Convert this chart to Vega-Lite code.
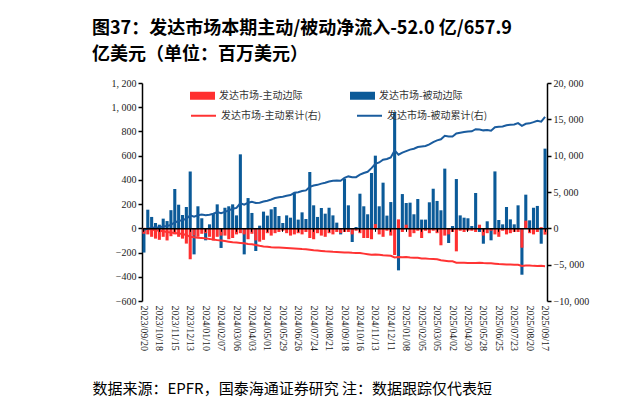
{
  "$schema": "https://vega.github.io/schema/vega-lite/v6.json",
  "width": 405,
  "height": 218,
  "autosize": {"type": "none"},
  "padding": {"left": 142, "top": 83, "right": 71, "bottom": 112},
  "background": "white",
  "title": {
    "text": ["图37：发达市场本期主动/被动净流入-52.0 亿/657.9", "亿美元（单位：百万美元）"],
    "anchor": "start",
    "frame": "group",
    "dx": -50,
    "offset": 14,
    "font": "Noto Sans CJK SC",
    "fontSize": 18,
    "fontWeight": "bold",
    "color": "#000000",
    "lineHeight": 26
  },
  "data": {
    "values": [
      {"d": "2023/09/20", "a": -45, "p": -200, "ac": -45, "pc": -200},
      {"d": "2023/09/27", "a": -50, "p": 154, "ac": -95, "pc": -38},
      {"d": "2023/10/04", "a": -70, "p": 94, "ac": -165, "pc": 65},
      {"d": "2023/10/11", "a": -85, "p": 44, "ac": -250, "pc": 117},
      {"d": "2023/10/18", "a": -95, "p": 30, "ac": -345, "pc": 155},
      {"d": "2023/10/25", "a": -70, "p": 80, "ac": -415, "pc": 244},
      {"d": "2023/11/01", "a": -100, "p": 60, "ac": -515, "pc": 312},
      {"d": "2023/11/08", "a": -65, "p": 150, "ac": -580, "pc": 470},
      {"d": "2023/11/15", "a": -50, "p": 325, "ac": -630, "pc": 804},
      {"d": "2023/11/22", "a": -70, "p": 195, "ac": -700, "pc": 1007},
      {"d": "2023/11/29", "a": -85, "p": 110, "ac": -785, "pc": 1125},
      {"d": "2023/12/06", "a": -126, "p": 176, "ac": -911, "pc": 1310},
      {"d": "2023/12/13", "a": -256, "p": 470, "ac": -1167, "pc": 1788},
      {"d": "2023/12/20", "a": -60, "p": -215, "ac": -1227, "pc": 1592},
      {"d": "2023/12/27", "a": -70, "p": 182, "ac": -1297, "pc": 1793},
      {"d": "2024/01/03", "a": -45, "p": 83, "ac": -1342, "pc": 1896},
      {"d": "2024/01/10", "a": -40, "p": -99, "ac": -1382, "pc": 1816},
      {"d": "2024/01/17", "a": -70, "p": 33, "ac": -1452, "pc": 1868},
      {"d": "2024/01/24", "a": -100, "p": 121, "ac": -1552, "pc": 2008},
      {"d": "2024/01/31", "a": -70, "p": 198, "ac": -1622, "pc": 2226},
      {"d": "2024/02/07", "a": -60, "p": -162, "ac": -1682, "pc": 2083},
      {"d": "2024/02/14", "a": -60, "p": 170, "ac": -1742, "pc": 2272},
      {"d": "2024/02/21", "a": -90, "p": 182, "ac": -1832, "pc": 2473},
      {"d": "2024/02/28", "a": -80, "p": 198, "ac": -1912, "pc": 2691},
      {"d": "2024/03/06", "a": -50, "p": 107, "ac": -1962, "pc": 2817},
      {"d": "2024/03/13", "a": -40, "p": 611, "ac": -2002, "pc": 3447},
      {"d": "2024/03/20", "a": -50, "p": -215, "ac": -2052, "pc": 3249},
      {"d": "2024/03/27", "a": -90, "p": 250, "ac": -2142, "pc": 3515},
      {"d": "2024/04/03", "a": -45, "p": 127, "ac": -2187, "pc": 3659},
      {"d": "2024/04/10", "a": -100, "p": -187, "ac": -2287, "pc": 3489},
      {"d": "2024/04/17", "a": -110, "p": 22, "ac": -2397, "pc": 3527},
      {"d": "2024/04/24", "a": -95, "p": 138, "ac": -2492, "pc": 3682},
      {"d": "2024/05/01", "a": -40, "p": 105, "ac": -2532, "pc": 3804},
      {"d": "2024/05/08", "a": -60, "p": 157, "ac": -2592, "pc": 3977},
      {"d": "2024/05/15", "a": -40, "p": 176, "ac": -2632, "pc": 4170},
      {"d": "2024/05/22", "a": -30, "p": 102, "ac": -2652, "pc": 4289},
      {"d": "2024/05/29", "a": -20, "p": 44, "ac": -2663, "pc": 4349},
      {"d": "2024/06/05", "a": -40, "p": 107, "ac": -2693, "pc": 4473},
      {"d": "2024/06/12", "a": -60, "p": 88, "ac": -2744, "pc": 4578},
      {"d": "2024/06/19", "a": -50, "p": 292, "ac": -2784, "pc": 4886},
      {"d": "2024/06/26", "a": -40, "p": 72, "ac": -2814, "pc": 4975},
      {"d": "2024/07/03", "a": -50, "p": 132, "ac": -2855, "pc": 5124},
      {"d": "2024/07/10", "a": -30, "p": 77, "ac": -2875, "pc": 5217},
      {"d": "2024/07/17", "a": -80, "p": 465, "ac": -2945, "pc": 5699},
      {"d": "2024/07/24", "a": -90, "p": 190, "ac": -3026, "pc": 5889},
      {"d": "2024/07/31", "a": -40, "p": 94, "ac": -3056, "pc": 5983},
      {"d": "2024/08/07", "a": -60, "p": 168, "ac": -3107, "pc": 6151},
      {"d": "2024/08/14", "a": -70, "p": 121, "ac": -3167, "pc": 6272},
      {"d": "2024/08/21", "a": -40, "p": 170, "ac": -3197, "pc": 6442},
      {"d": "2024/08/28", "a": -50, "p": 107, "ac": -3238, "pc": 6549},
      {"d": "2024/09/04", "a": -30, "p": 47, "ac": -3258, "pc": 6596},
      {"d": "2024/09/11", "a": -40, "p": -50, "ac": -3289, "pc": 6546},
      {"d": "2024/09/18", "a": -30, "p": 410, "ac": -3309, "pc": 6956},
      {"d": "2024/09/25", "a": -30, "p": 190, "ac": -3329, "pc": 7146},
      {"d": "2024/10/02", "a": -50, "p": -113, "ac": -3370, "pc": 7033},
      {"d": "2024/10/09", "a": -20, "p": 11, "ac": -3380, "pc": 7044},
      {"d": "2024/10/16", "a": -40, "p": 286, "ac": -3410, "pc": 7380},
      {"d": "2024/10/23", "a": -80, "p": 182, "ac": -3481, "pc": 7612},
      {"d": "2024/10/30", "a": -80, "p": 116, "ac": -3551, "pc": 7778},
      {"d": "2024/11/06", "a": -90, "p": 457, "ac": -3632, "pc": 8285},
      {"d": "2024/11/13", "a": 35, "p": 600, "ac": -3587, "pc": 8885},
      {"d": "2024/11/20", "a": -50, "p": 182, "ac": -3637, "pc": 9067},
      {"d": "2024/11/27", "a": -70, "p": 377, "ac": -3707, "pc": 9444},
      {"d": "2024/12/04", "a": -20, "p": 105, "ac": -3727, "pc": 9549},
      {"d": "2024/12/11", "a": -60, "p": 217, "ac": -3787, "pc": 9766},
      {"d": "2024/12/18", "a": -220, "p": 960, "ac": -4007, "pc": 10726},
      {"d": "2024/12/25", "a": 74, "p": -347, "ac": -3933, "pc": 10129},
      {"d": "2025/01/01", "a": -30, "p": 283, "ac": -3963, "pc": 10412},
      {"d": "2025/01/08", "a": 30, "p": 209, "ac": -3933, "pc": 10621},
      {"d": "2025/01/15", "a": -70, "p": 212, "ac": -4003, "pc": 10833},
      {"d": "2025/01/22", "a": -40, "p": 116, "ac": -4043, "pc": 10949},
      {"d": "2025/01/29", "a": -20, "p": 242, "ac": -4063, "pc": 11191},
      {"d": "2025/02/05", "a": -80, "p": 72, "ac": -4143, "pc": 11263},
      {"d": "2025/02/12", "a": -20, "p": 72, "ac": -4163, "pc": 11335},
      {"d": "2025/02/19", "a": -40, "p": 215, "ac": -4203, "pc": 11550},
      {"d": "2025/02/26", "a": -20, "p": 327, "ac": -4223, "pc": 11877},
      {"d": "2025/03/05", "a": -40, "p": 226, "ac": -4263, "pc": 12103},
      {"d": "2025/03/12", "a": -140, "p": 149, "ac": -4403, "pc": 12252},
      {"d": "2025/03/19", "a": -60, "p": 493, "ac": -4463, "pc": 12745},
      {"d": "2025/03/26", "a": -50, "p": -121, "ac": -4513, "pc": 12624},
      {"d": "2025/04/02", "a": -30, "p": 19, "ac": -4543, "pc": 12643},
      {"d": "2025/04/09", "a": -190, "p": 407, "ac": -4721, "pc": 13050},
      {"d": "2025/04/16", "a": -20, "p": 107, "ac": -4729, "pc": 13157},
      {"d": "2025/04/23", "a": -30, "p": 88, "ac": -4747, "pc": 13245},
      {"d": "2025/04/30", "a": -20, "p": 83, "ac": -4755, "pc": 13328},
      {"d": "2025/05/07", "a": -20, "p": 19, "ac": -4763, "pc": 13347},
      {"d": "2025/05/14", "a": -30, "p": 292, "ac": -4780, "pc": 13639},
      {"d": "2025/05/21", "a": 30, "p": -30, "ac": -4738, "pc": 13609},
      {"d": "2025/05/28", "a": -60, "p": -127, "ac": -4786, "pc": 13482},
      {"d": "2025/06/04", "a": -40, "p": 58, "ac": -4814, "pc": 13540},
      {"d": "2025/06/11", "a": -20, "p": -99, "ac": -4822, "pc": 13441},
      {"d": "2025/06/18", "a": -50, "p": 470, "ac": -4860, "pc": 13911},
      {"d": "2025/06/25", "a": -70, "p": 69, "ac": -4918, "pc": 13980},
      {"d": "2025/07/02", "a": -20, "p": 33, "ac": -4926, "pc": 14013},
      {"d": "2025/07/09", "a": -50, "p": 176, "ac": -4964, "pc": 14189},
      {"d": "2025/07/16", "a": -40, "p": 74, "ac": -4992, "pc": 14263},
      {"d": "2025/07/23", "a": -30, "p": 33, "ac": -5010, "pc": 14296},
      {"d": "2025/07/30", "a": -30, "p": 190, "ac": -5028, "pc": 14486},
      {"d": "2025/08/06", "a": -160, "p": -383, "ac": -5176, "pc": 14103},
      {"d": "2025/08/13", "a": 63, "p": 278, "ac": -5100, "pc": 14381},
      {"d": "2025/08/20", "a": -40, "p": 66, "ac": -5128, "pc": 14447},
      {"d": "2025/08/27", "a": -50, "p": 170, "ac": -5166, "pc": 14617},
      {"d": "2025/09/03", "a": -30, "p": 185, "ac": -5184, "pc": 14802},
      {"d": "2025/09/10", "a": 10, "p": -127, "ac": -5162, "pc": 14675},
      {"d": "2025/09/17", "a": -52, "p": 658, "ac": -5202, "pc": 15333}
    ]
  },
  "layer": [
    {
      "transform": [{"fold": ["p", "a"], "as": ["k", "v"]}],
      "mark": {"type": "bar", "width": {"band": 0.8}},
      "encoding": {
        "x": {
          "field": "d", "type": "ordinal", "sort": null,
          "scale": {"paddingInner": 0, "paddingOuter": 0},
          "axis": {
            "values": ["2023/09/20","2023/10/18","2023/11/15","2023/12/13","2024/01/10","2024/02/07","2024/03/06","2024/04/03","2024/05/01","2024/05/29","2024/06/26","2024/07/24","2024/08/21","2024/09/18","2024/10/16","2024/11/13","2024/12/11","2025/01/08","2025/02/05","2025/03/05","2025/04/02","2025/04/30","2025/05/28","2025/06/25","2025/07/23","2025/08/20","2025/09/17"],
            "labelAngle": 90,
            "labelFont": "Liberation Serif",
            "labelFontSize": 10,
            "labelColor": "#222222",
            "labelPadding": 4,
            "domain": false,
            "ticks": false,
            "grid": false,
            "title": "数据来源：EPFR，国泰海通证券研究  注：数据跟踪仅代表短",
            "titleFont": "Noto Sans CJK SC",
            "titleFontSize": 15,
            "titleFontWeight": "normal",
            "titleColor": "#000000",
            "titleAnchor": "start",
            "titleAlign": "left",
            "titleX": -50,
            "titleY": 92,
            "titleBaseline": "alphabetic"
          }
        },
        "y": {
          "field": "v", "type": "quantitative", "stack": null,
          "scale": {"domain": [-600, 1200], "nice": false, "zero": false},
          "axis": {
            "orient": "left",
            "values": [-600, -400, -200, 0, 200, 400, 600, 800, 1000, 1200],
            "labelExpr": "replace(format(datum.value, ','), ',', ', ')",
            "labelFont": "Liberation Serif",
            "labelFontSize": 10,
            "labelColor": "#222222",
            "domainColor": "#000000",
            "domainWidth": 1.5,
            "tickColor": "#000000",
            "tickWidth": 1.5,
            "tickSize": 4,
            "labelPadding": 2,
            "grid": false,
            "title": null
          }
        },
        "color": {
          "field": "k", "type": "nominal",
          "scale": {"domain": ["a", "p"], "range": ["#FF3030", "#0B5A98"]},
          "legend": {
            "orient": "none",
            "legendX": 48,
            "legendY": 0,
            "direction": "horizontal",
            "columns": 2,
            "title": null,
            "padding": 0,
            "symbolType": "M-1,-0.32L1,-0.32L1,0.32L-1,0.32Z",
            "symbolSize": 625,
            "symbolStrokeWidth": 0,
            "labelFont": "Noto Sans CJK SC",
            "labelFontSize": 10,
            "labelColor": "#333333",
            "labelOffset": 4,
            "labelLimit": 200,
            "columnPadding": 47,
            "labelExpr": "datum.label == 'a' ? '发达市场-主动边际' : '发达市场-被动边际'"
          }
        }
      }
    },
    {
      "transform": [{"fold": ["ac", "pc"], "as": ["k2", "v2"]}],
      "mark": {"type": "line", "strokeWidth": 2},
      "encoding": {
        "x": {
          "field": "d", "type": "ordinal", "sort": null,
          "axis": {
            "orient": "bottom",
            "offset": -72.67,
            "values": ["2023/09/20","2023/10/18","2023/11/15","2023/12/13","2024/01/10","2024/02/07","2024/03/06","2024/04/03","2024/05/01","2024/05/29","2024/06/26","2024/07/24","2024/08/21","2024/09/18","2024/10/16","2024/11/13","2024/12/11","2025/01/08","2025/02/05","2025/03/05","2025/04/02","2025/04/30","2025/05/28","2025/06/25","2025/07/23","2025/08/20","2025/09/17"],
            "labels": false,
            "domain": true,
            "domainColor": "#000000",
            "domainWidth": 1.5,
            "ticks": true,
            "tickColor": "#000000",
            "tickSize": 3,
            "tickWidth": 1,
            "grid": false,
            "title": null,
            "zindex": 1
          }
        },
        "y": {
          "field": "v2", "type": "quantitative",
          "scale": {"domain": [-10000, 20000], "nice": false, "zero": false},
          "axis": {
            "orient": "right",
            "values": [-10000, -5000, 0, 5000, 10000, 15000, 20000],
            "labelExpr": "replace(format(datum.value, ','), ',', ', ')",
            "labelFont": "Liberation Serif",
            "labelFontSize": 10,
            "labelColor": "#222222",
            "domainColor": "#000000",
            "domainWidth": 1.5,
            "tickColor": "#000000",
            "tickWidth": 1.5,
            "tickSize": 4,
            "labelPadding": 2,
            "grid": false,
            "title": null
          }
        },
        "color": {
          "field": "k2", "type": "nominal",
          "scale": {"domain": ["ac", "pc"], "range": ["#FF3333", "#1A5C9E"]},
          "legend": {
            "orient": "none",
            "legendX": 48,
            "legendY": 19,
            "direction": "horizontal",
            "columns": 2,
            "title": null,
            "padding": 0,
            "symbolType": "stroke",
            "symbolSize": 625,
            "symbolStrokeWidth": 2,
            "labelFont": "Noto Sans CJK SC",
            "labelFontSize": 10,
            "labelColor": "#333333",
            "labelOffset": 4,
            "labelLimit": 200,
            "columnPadding": 31,
            "labelExpr": "datum.label == 'ac' ? '发达市场-主动累计(右)' : '发达市场-被动累计(右)'"
          }
        }
      }
    }
  ],
  "resolve": {"scale": {"y": "independent", "color": "independent"}, "axis": {"x": "independent"}},
  "config": {"view": {"stroke": null}}
}
